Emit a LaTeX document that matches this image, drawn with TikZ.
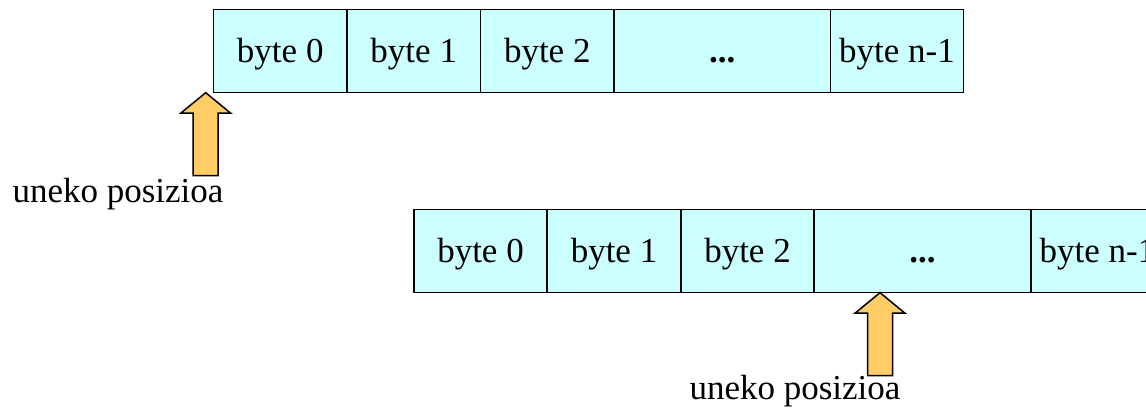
\documentclass[tikz,border=0pt]{standalone}
\usepackage{fontspec}
\setmainfont{Liberation Serif}
\definecolor{cellcyan}{HTML}{CCFFFF}
\definecolor{arrowyel}{HTML}{FFCC66}
\tikzset{
  x=1pt,y=1pt,
  cell/.style={draw=black, line width=1.9pt, fill=cellcyan},
  celltext/.style={anchor=base, inner sep=0pt, font=\fontsize{35}{40}\selectfont},
  lbl/.style={anchor=base, inner sep=0pt, font=\fontsize{35}{40}\selectfont},
  posarrow/.pic={
    \draw[line width=1.5pt, fill=arrowyel, line join=miter]
      (0,0) -- (25,-20.5) -- (12.5,-20.5) -- (12.5,-83) -- (-12.5,-83)
      -- (-12.5,-20.5) -- (-25,-20.5) -- cycle;
  }
}
\begin{document}
\begin{tikzpicture}
\useasboundingbox (0,0) rectangle (1146,407);
\clip (0,0) rectangle (1146,407);
% top row
\foreach \a/\b/\t [count=\i] in {213.5/347/byte 0, 347/480.5/byte 1, 480.5/614/byte 2, 614/830.5/\textbf{...}, 830.5/963.5/byte n-1}{
  \draw[cell] (\a,314.5) rectangle (\b,397.5);
  \node[celltext] (t\i) at ({(\a+\b)/2},344) {\t};
}
% bottom row
\foreach \a/\b/\t [count=\i] in {414/547/byte 0, 547/681/byte 1, 681/814/byte 2, 814/1031/\textbf{...}, 1031/1164/byte n-1}{
  \draw[cell] (\a,114.5) rectangle (\b,197.5);
  \node[celltext] (b\i) at ({(\a+\b)/2},144) {\t};
}
% arrows
\coordinate (p1) at (205.7,314.3);
\coordinate (p2) at (880,114.3);
\pic at (p1) {posarrow};
\pic at (p2) {posarrow};
\node[lbl] (l1) at (118,204) {uneko posizioa};
\node[lbl] (l2) at (795,7) {uneko posizioa};
\end{tikzpicture}
\end{document}
